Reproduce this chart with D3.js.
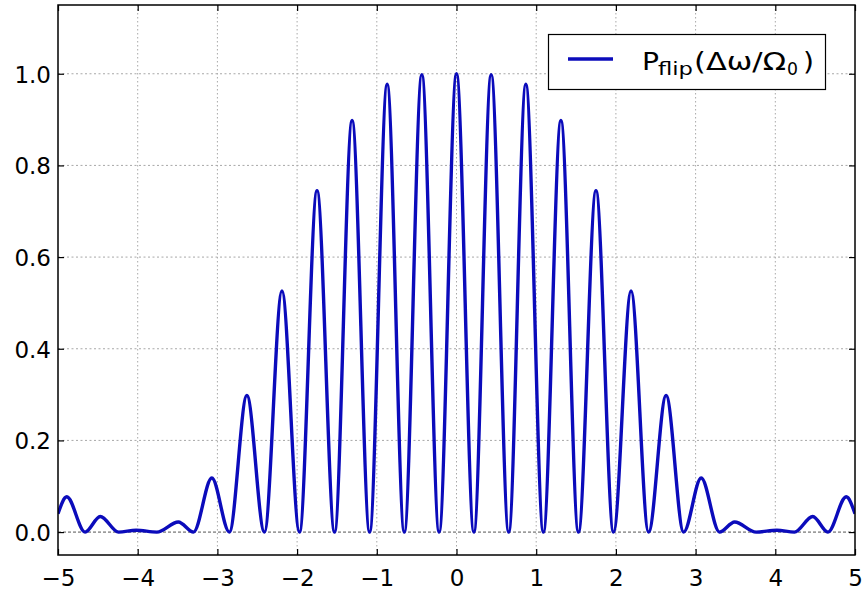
<!DOCTYPE html>
<html>
<head>
<meta charset="utf-8">
<script src="https://cdn.jsdelivr.net/npm/d3@7"></script>
<style>
  html, body { margin: 0; padding: 0; background: #fff; }
  svg { display: block; }
  text { font-family: "DejaVu Sans", sans-serif; fill: #000; }
</style>
</head>
<body>
<svg id="chart" width="866" height="592"></svg>
<script>
// ---- data (key points: peaks and zeros) ----
const detuning = [
  -5.00, -4.89, -4.66, -4.47, -4.24, -4.02, -3.76, -3.49, -3.30, -3.07,
  -2.85, -2.63, -2.41, -2.19, -1.97, -1.75, -1.53, -1.31, -1.09, -0.87,
  -0.655, -0.435, -0.218, 0.00,
  0.218, 0.435, 0.655, 0.87, 1.09, 1.31, 1.53, 1.75, 1.97, 2.19,
  2.41, 2.63, 2.85, 3.07, 3.30, 3.49, 3.76, 4.02, 4.24, 4.47,
  4.66, 4.89, 5.00
];
const pFlip = [
  0.040, 0.077, 0.000, 0.034, 0.000, 0.004, 0.000, 0.022, 0.000, 0.118,
  0.000, 0.298, 0.000, 0.526, 0.000, 0.745, 0.000, 0.898, 0.000, 0.977,
  0.000, 0.998, 0.000, 1.000,
  0.000, 0.998, 0.000, 0.977, 0.000, 0.898, 0.000, 0.745, 0.000, 0.526,
  0.000, 0.298, 0.000, 0.118, 0.000, 0.022, 0.000, 0.004, 0.000, 0.034,
  0.000, 0.077, 0.040
];
const xTicks = [-5, -4, -3, -2, -1, 0, 1, 2, 3, 4, 5];
const yTicks = [0.0, 0.2, 0.4, 0.6, 0.8, 1.0];
const xDomain = [-5, 5];
const yDomain = [-0.05, 1.15];

// ---- layout ----
const L = 58, R = 855, T = 5, B = 555;
const svg = d3.select("#chart");
const lineColor = "#0b0bbb";

const x = d3.scaleLinear().domain(xDomain).range([L, R]);
const y = d3.scaleLinear().domain(yDomain).range([B, T]);

// grid
const grid = svg.append("g");
grid.selectAll("line.gx").data(xTicks.filter(d => d > xDomain[0] && d < xDomain[1]))
  .enter().append("line")
  .attr("x1", d => x(d)).attr("x2", d => x(d)).attr("y1", T).attr("y2", B)
  .attr("stroke", "#a8a8a8").attr("stroke-width", 1).attr("stroke-dasharray", "1.5,2.5");
grid.selectAll("line.gy").data(yTicks.filter(d => d !== 0))
  .enter().append("line")
  .attr("x1", L).attr("x2", R).attr("y1", d => y(d)).attr("y2", d => y(d))
  .attr("stroke", "#a8a8a8").attr("stroke-width", 1).attr("stroke-dasharray", "2,2.5");
// zero line
grid.append("line")
  .attr("x1", L).attr("x2", R).attr("y1", y(0)).attr("y2", y(0))
  .attr("stroke", "#555").attr("stroke-width", 1).attr("stroke-dasharray", "3,2");

// clip
svg.append("clipPath").attr("id", "clip").append("rect")
  .attr("x", L).attr("y", T).attr("width", R - L).attr("height", B - T);

// curve
const pts = detuning.map((d, i) => [d, pFlip[i]]);
const line = d3.line().x(d => x(d[0])).y(d => y(d[1])).curve(d3.curveMonotoneX);
svg.append("path").datum(pts)
  .attr("clip-path", "url(#clip)")
  .attr("d", line)
  .attr("fill", "none")
  .attr("stroke", lineColor)
  .attr("stroke-width", 3.4)
  .attr("stroke-linejoin", "round");

// axes (ticks inward, mirrored)
const tickLen = 6;
const fs = 23;
const xAxisB = d3.axisBottom(x).tickValues(xTicks).tickSizeInner(-tickLen).tickSizeOuter(0)
  .tickFormat(d3.format("d"));
const gxb = svg.append("g").attr("transform", `translate(0,${B})`).call(xAxisB);
const xAxisT = d3.axisTop(x).tickValues(xTicks).tickSizeInner(-tickLen).tickSizeOuter(0).tickFormat("");
const gxt = svg.append("g").attr("transform", `translate(0,${T})`).call(xAxisT);
const yAxisL = d3.axisLeft(y).tickValues(yTicks).tickSizeInner(-tickLen).tickSizeOuter(0).tickPadding(7)
  .tickFormat(d3.format(".1f"));
const gyl = svg.append("g").attr("transform", `translate(${L},0)`).call(yAxisL);
const yAxisR = d3.axisRight(y).tickValues(yTicks).tickSizeInner(-tickLen).tickSizeOuter(0).tickFormat("");
const gyr = svg.append("g").attr("transform", `translate(${R},0)`).call(yAxisR);

[gxb, gxt, gyl, gyr].forEach(g => {
  g.select(".domain").remove();
  g.selectAll(".tick line").attr("stroke", "#000").attr("stroke-width", 1.2);
  g.selectAll("text").attr("font-size", fs).attr("font-family", "DejaVu Sans").attr("fill", "#000");
});
gxb.selectAll("text").attr("dy", null).attr("y", 31);
gyl.selectAll("text").attr("dy", "0.36em");

// frame
svg.append("rect").attr("x", L).attr("y", T).attr("width", R - L).attr("height", B - T)
  .attr("fill", "none").attr("stroke", "#000").attr("stroke-width", 1.5);

// legend
const lg = svg.append("g");
lg.append("rect").attr("x", 548.5).attr("y", 34.5).attr("width", 277).attr("height", 55)
  .attr("fill", "#fff").attr("stroke", "#000").attr("stroke-width", 1.2);
lg.append("line").attr("x1", 568).attr("x2", 613).attr("y1", 59).attr("y2", 59)
  .attr("stroke", lineColor).attr("stroke-width", 3.4);
const big = 25, small = 18;
lg.append("text").attr("x", 642).attr("y", 70).attr("font-size", big)
  .attr("textLength", 17).attr("lengthAdjust", "spacingAndGlyphs").text("P");
lg.append("text").attr("x", 658).attr("y", 75).attr("font-size", small)
  .attr("textLength", 35).attr("lengthAdjust", "spacingAndGlyphs").text("flip");
lg.append("text").attr("x", 694).attr("y", 70).attr("font-size", big)
  .attr("textLength", 92).attr("lengthAdjust", "spacingAndGlyphs").text("(Δω/Ω");
lg.append("text").attr("x", 787).attr("y", 75).attr("font-size", small)
  .attr("textLength", 11).attr("lengthAdjust", "spacingAndGlyphs").text("0");
lg.append("text").attr("x", 803).attr("y", 70).attr("font-size", big)
  .attr("textLength", 11).attr("lengthAdjust", "spacingAndGlyphs").text(")");
</script>
</body>
</html>
